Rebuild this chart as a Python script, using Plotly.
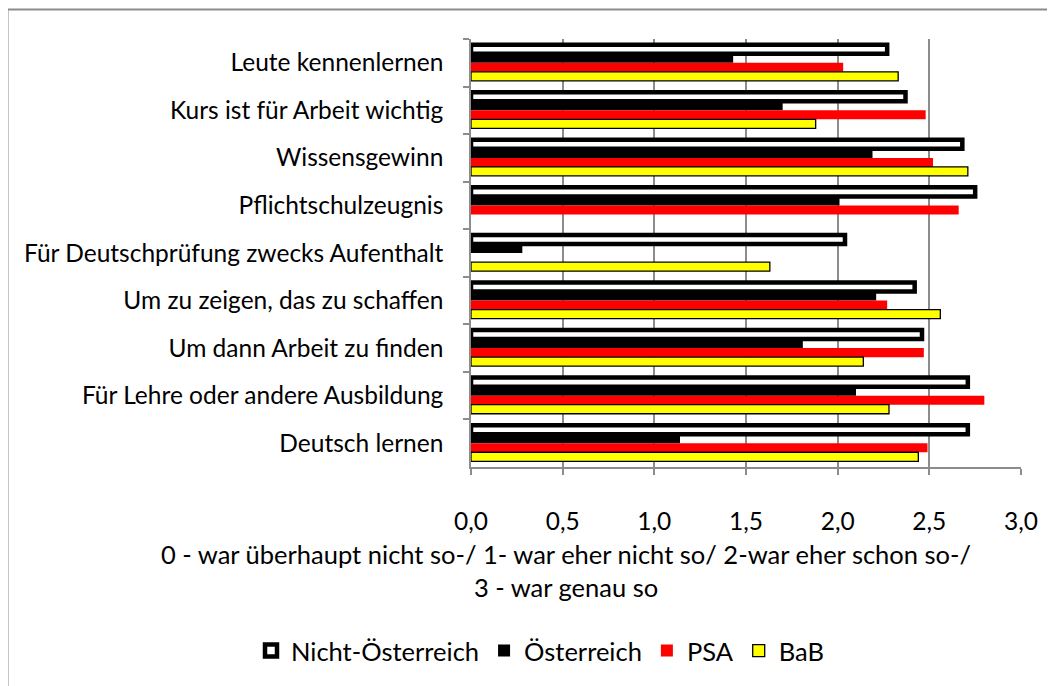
import plotly.graph_objects as go

categories = [
    "Leute kennenlernen",
    "Kurs ist für Arbeit wichtig",
    "Wissensgewinn",
    "Pflichtschulzeugnis",
    "Für Deutschprüfung zwecks Aufenthalt",
    "Um zu zeigen, das zu schaffen",
    "Um dann Arbeit zu finden",
    "Für Lehre oder andere Ausbildung",
    "Deutsch lernen",
]
nicht_oesterreich = [2.27, 2.37, 2.68, 2.75, 2.04, 2.42, 2.46, 2.71, 2.71]
oesterreich = [1.43, 1.70, 2.19, 2.01, 0.28, 2.21, 1.81, 2.10, 1.14]
psa = [2.03, 2.48, 2.52, 2.66, None, 2.27, 2.47, 2.80, 2.49]
bab = [2.33, 1.88, 2.71, None, 1.63, 2.56, 2.14, 2.28, 2.44]
series_names = ["Nicht-Österreich", "Österreich", "PSA", "BaB"]
x_tick_values = [0.0, 0.5, 1.0, 1.5, 2.0, 2.5, 3.0]
x_title = "0 - war überhaupt nicht so-/ 1- war eher nicht so/ 2-war eher schon so-/<br>3 - war genau so"

FONT = "Lato, Arial, sans-serif"
FS_TICK = 24.5
FS_TEXT = 25.5
GRID = "#8c8c8c"

fig = go.Figure()
styles = [
    dict(color="white", line=dict(color="black", width=4.5)),
    dict(color="black", line=dict(color="black", width=0)),
    dict(color="#ff0000", line=dict(color="#ff0000", width=0)),
    dict(color="#ffff00", line=dict(color="black", width=1.3)),
]
for name, vals, st in zip(series_names, [nicht_oesterreich, oesterreich, psa, bab], styles):
    fig.add_trace(go.Bar(
        name=name, y=categories, x=vals, orientation="h",
        marker=st,
    ))

# page body has an 8px offset; target pixel positions are compensated
OFF = 8
W, H = 1055, 686
L = 471 - OFF
T = 39 - OFF
R = W - (1021 - OFF)
B = H - (467 - OFF)
pw = W - L - R
ph = H - T - B

def px_x(px):
    return (px - OFF - L) / pw

def px_y(py):
    return (H - B - (py - OFF)) / ph

fig.update_layout(
    width=W, height=H,
    margin=dict(l=L, r=R, t=T, b=B, pad=0),
    paper_bgcolor="white", plot_bgcolor="white",
    barmode="group", bargap=0.24, bargroupgap=0,
    separators=",.",
    font=dict(family=FONT, size=FS_TICK, color="black"),
    showlegend=True,
    legend=dict(
        orientation="h", xref="paper", yref="paper",
        x=px_x(251), y=px_y(651),
        xanchor="left", yanchor="middle",
        font=dict(family=FONT, size=FS_TEXT, color="black"),
        traceorder="normal", itemwidth=30,
        bgcolor="rgba(0,0,0,0)",
    ),
    xaxis=dict(
        range=[0, 3], tickvals=x_tick_values, tickformat=".1f",
        showgrid=True, gridcolor=GRID, gridwidth=1.5,
        showline=True, linecolor=GRID, linewidth=1.5,
        ticks="outside", ticklen=6, tickcolor=GRID, tickwidth=1.5,
        ticklabelstandoff=26,
        zeroline=False,
        tickfont=dict(family=FONT, size=FS_TICK, color="black"),
    ),
    yaxis=dict(
        autorange="reversed",
        showline=True, linecolor=GRID, linewidth=1.5,
        ticks="outside", ticklen=6, tickcolor=GRID, tickwidth=1.5,
        tickson="boundaries", ticklabelstandoff=21,
        showgrid=False,
        tickfont=dict(family=FONT, size=FS_TICK, color="black"),
    ),
    annotations=[dict(
        text=x_title, xref="paper", yref="paper",
        x=px_x(566), y=px_y(570), xanchor="center", yanchor="middle",
        showarrow=False, align="center",
        font=dict(family=FONT, size=FS_TEXT, color="black"),
    )],
    shapes=[dict(
        type="rect", xref="paper", yref="paper",
        x0=px_x(7.5), x1=px_x(1080), y0=px_y(720), y1=px_y(9.5),
        line=dict(color=GRID, width=2), fillcolor="rgba(0,0,0,0)", layer="below",
    )],
)

fig.write_html("out.html")
